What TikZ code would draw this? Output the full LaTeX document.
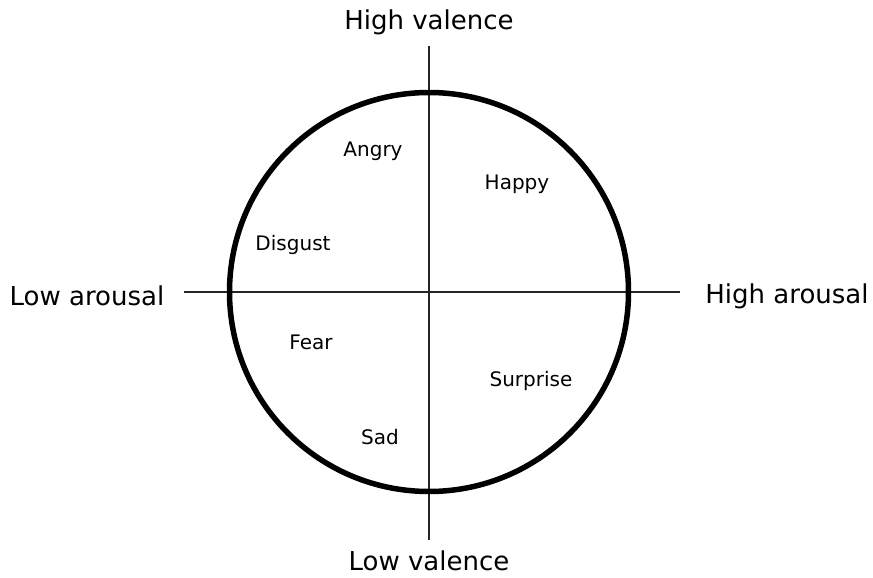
\documentclass[tikz,border=0pt]{standalone}
\usepackage{fontspec}
\setmainfont{DejaVu Sans}
\begin{document}
\begin{tikzpicture}[x=1pt,y=-1pt,
  axis/.style={line width=1.6pt,black!85},
  ring/.style={line width=5.5pt},
  biglabel/.style={font=\fontsize{26}{28}\selectfont,inner sep=1pt},
  emo/.style={font=\fontsize{20}{22}\selectfont}]
\useasboundingbox (0,0) rectangle (873,578);
\coordinate (c) at (429,292);
\coordinate (vt) at (429,46);
\coordinate (vb) at (429,540);
\coordinate (hl) at (184,292);
\coordinate (hr) at (680,292);
\draw[axis] (vt) -- (vb);
\draw[axis] (hl) -- (hr);
\draw[ring] (c) circle[radius=199.5];
\node[biglabel] (hv) at (429,22) {High valence};
\node[biglabel] (lv) at (429,561) {Low valence};
\node[biglabel] (la) at (87,296) {Low arousal};
\node[biglabel] (ha) at (787,296) {High arousal};
\node[emo] (angry) at (373,151) {Angry};
\node[emo] (happy) at (517,184) {Happy};
\node[emo] (disgust) at (293,245) {Disgust};
\node[emo] (fear) at (311,342) {Fear};
\node[emo] (surprise) at (531,381) {Surprise};
\node[emo] (sad) at (380,437) {Sad};
\end{tikzpicture}
\end{document}
